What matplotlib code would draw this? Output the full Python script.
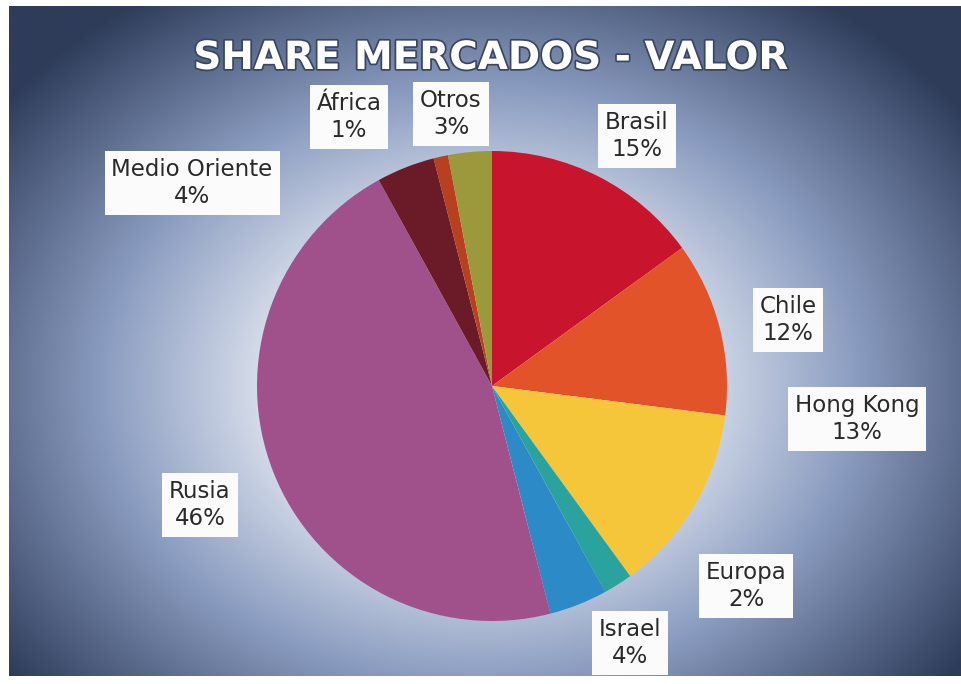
import numpy as np
import matplotlib
matplotlib.use("Agg")
import matplotlib.pyplot as plt
import matplotlib.patheffects as pe

# ---- data ----
title = "SHARE MERCADOS - VALOR"
categories = ["Brasil", "Chile", "Hong Kong", "Europa", "Israel",
              "Rusia", "Medio Oriente", "África", "Otros"]
values = [15, 12, 13, 2, 4, 46, 4, 1, 3]
colors = ["#c8142c", "#e2532a", "#f6c63a", "#2aa39e", "#2c8ac6",
          "#a0518c", "#6a1b27", "#b8401f", "#9c993c"]
# label box centers in pixel coordinates (x from left, y from top)
label_pos = [(637, 136), (788, 320), (857, 419), (746, 586), (630, 643),
             (200, 505), (192, 183), (349, 117), (451, 114)]

W, H = 961, 684
fig = plt.figure(figsize=(W / 100, H / 100), dpi=100, facecolor="white")
ax = fig.add_axes([0, 0, 1, 1])

# ---- background glow (slide) ----
sx0, sx1, sy0, sy1 = 9, 961, 6, 676
nx, ny = 480, 340
xs = np.linspace(sx0, sx1, nx)
ys = np.linspace(sy0, sy1, ny)
X, Y = np.meshgrid(xs, ys)
r = np.sqrt(((X - 480) / 420) ** 2 + ((Y - 385) / 330) ** 2)
t = np.clip(r, 0, 1.5) / 1.5
edge = np.array([0x2e, 0x3c, 0x5a]) / 255
mid = np.array([0x8a, 0x9c, 0xc0]) / 255
center = np.array([0xf4, 0xf6, 0xfb]) / 255
w1 = np.clip((t - 0.25) / 0.35, 0, 1)[..., None]
w2 = np.clip((t - 0.6) / 0.35, 0, 1)[..., None]
img = center * (1 - w1) + mid * w1
img = img * (1 - w2) + edge * w2
ax.imshow(img, extent=(sx0, sx1, H - sy1, H - sy0), origin="upper",
          aspect="auto", zorder=0, interpolation="bilinear")

# ---- pie ----
ax.pie(values, colors=colors, startangle=90, counterclock=False,
       center=(492, H - 386), radius=235,
       wedgeprops=dict(linewidth=0), frame=True)
ax.set_xlim(0, W)
ax.set_ylim(0, H)
ax.set_aspect("equal")
ax.axis("off")

# ---- labels ----
for cat, v, (lx, ly) in zip(categories, values, label_pos):
    ax.text(lx, H - ly, f"{cat}\n{v}%", ha="center", va="center",
            fontsize=16.5, color="#2a2a2a", family="DejaVu Sans",
            linespacing=1.2, zorder=5,
            bbox=dict(boxstyle="square,pad=0.3", fc="#fbfbfb", ec="none"))

# ---- title ----
ax.text(491, H - 58, title, ha="center", va="center", fontsize=28,
        fontweight="bold", color="white", family="DejaVu Sans", zorder=6,
        path_effects=[pe.withStroke(linewidth=2.5, foreground="#3a4660")])

fig.savefig("out.png", dpi=100, facecolor="white")
